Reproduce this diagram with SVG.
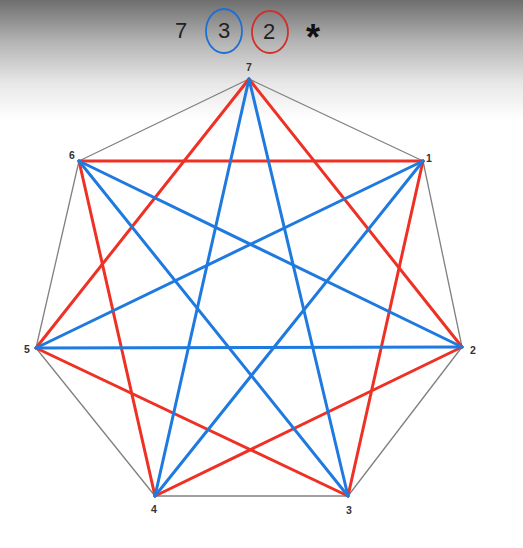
<svg xmlns="http://www.w3.org/2000/svg" width="523" height="548" viewBox="0 0 523 548">
<defs>
<linearGradient id="bg" x1="0" y1="0" x2="0" y2="1">
<stop offset="0" stop-color="#6e6e6e"/>
<stop offset="0.35" stop-color="#b4b4b4"/>
<stop offset="0.7" stop-color="#e8e8e8"/>
<stop offset="1" stop-color="#ffffff"/>
</linearGradient>
<style>
.hd{font-family:"Liberation Sans",Arial,sans-serif;font-size:22px;fill:#222;text-anchor:middle}
.lb{font-family:"Liberation Sans",Arial,sans-serif;font-size:10.5px;fill:#333;text-anchor:middle;font-weight:bold}
.g{stroke:#808080;stroke-width:1.3;fill:none}
.r{stroke:#ee3124;stroke-width:3;fill:none;stroke-linecap:round}
.b{stroke:#1f7ae0;stroke-width:3;fill:none;stroke-linecap:round}
</style>
</defs>
<rect x="0" y="0" width="523" height="548" fill="#ffffff"/>
<rect x="0" y="0" width="523" height="120" fill="url(#bg)"/>
<g id="header">
<text class="hd" x="181" y="38">7</text>
<ellipse cx="224" cy="31" rx="18" ry="22" fill="none" stroke="#1f6fd0" stroke-width="1.8"/>
<text class="hd" x="224" y="38">3</text>
<ellipse cx="270" cy="32" rx="18" ry="21" fill="none" stroke="#d0302a" stroke-width="1.8"/>
<text class="hd" x="269" y="39">2</text>
<text class="hd" x="313" y="50" style="font-size:36px;font-weight:bold;fill:#111">*</text>
</g>
<g id="connectors">
<g id="heptagon">
<line class="g" x1="249" y1="79" x2="423" y2="161"/>
<line class="g" x1="423" y1="161" x2="462" y2="347"/>
<line class="g" x1="462" y1="347" x2="348" y2="496"/>
<line class="g" x1="348" y1="496" x2="155" y2="496"/>
<line class="g" x1="155" y1="496" x2="36" y2="348"/>
<line class="g" x1="36" y1="348" x2="79" y2="161"/>
<line class="g" x1="79" y1="161" x2="249" y2="79"/>
</g>
<g id="red">
<line class="r" x1="249" y1="79" x2="462" y2="347"/>
<line class="r" x1="462" y1="347" x2="155" y2="496"/>
<line class="r" x1="155" y1="496" x2="79" y2="161"/>
<line class="r" x1="79" y1="161" x2="423" y2="161"/>
<line class="r" x1="423" y1="161" x2="348" y2="496"/>
<line class="r" x1="348" y1="496" x2="36" y2="348"/>
<line class="r" x1="36" y1="348" x2="249" y2="79"/>
</g>
<g id="blue">
<line class="b" x1="249" y1="79" x2="348" y2="496"/>
<line class="b" x1="348" y1="496" x2="79" y2="161"/>
<line class="b" x1="79" y1="161" x2="462" y2="347"/>
<line class="b" x1="462" y1="347" x2="36" y2="348"/>
<line class="b" x1="36" y1="348" x2="423" y2="161"/>
<line class="b" x1="423" y1="161" x2="155" y2="496"/>
<line class="b" x1="155" y1="496" x2="249" y2="79"/>
</g>
</g>
<g id="n7"><text class="lb" x="249" y="71">7</text></g>
<g id="n1"><text class="lb" x="429" y="162">1</text></g>
<g id="n2"><text class="lb" x="473" y="354">2</text></g>
<g id="n3"><text class="lb" x="349" y="514">3</text></g>
<g id="n4"><text class="lb" x="154" y="513">4</text></g>
<g id="n5"><text class="lb" x="27" y="353">5</text></g>
<g id="n6"><text class="lb" x="72" y="159">6</text></g>
</svg>
